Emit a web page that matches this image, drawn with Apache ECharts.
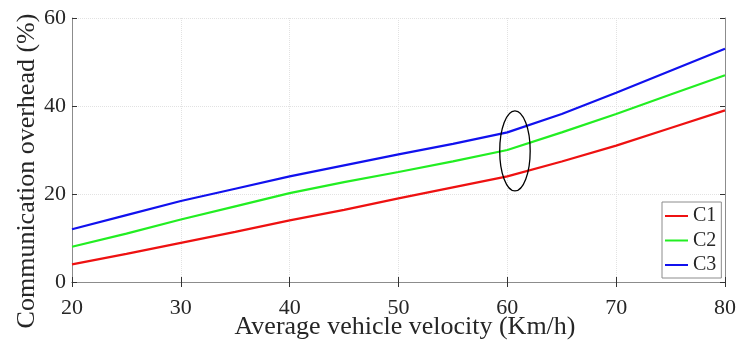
<!DOCTYPE html>
<html><head><meta charset="utf-8">
<script src="https://cdn.jsdelivr.net/npm/echarts@6/dist/echarts.min.js"></script>
<style>html,body{margin:0;padding:0;background:#fff}#c{width:739px;height:341px}</style>
</head><body><div id="c"></div>
<script>
var velocities = [20, 25, 30, 35, 40, 45, 50, 55, 60, 65, 70, 75, 80];
var c1 = [4, 6.4, 8.9, 11.4, 14, 16.4, 19, 21.5, 24, 27.4, 31, 35, 39];
var c2 = [8, 11, 14.2, 17.2, 20.2, 22.7, 25, 27.4, 30, 34, 38.2, 42.6, 47];
var c3 = [12, 15.2, 18.4, 21.2, 24, 26.5, 29, 31.4, 34, 38.2, 43, 48, 53];
var seriesNames = ['C1', 'C2', 'C3'];
var ellipseMark = [[60.7, 29.8, 2.8, 18.2]]; // center x, center y, width, height (data units)

var FONT = 'Liberation Serif';
function pairs(ys){ return velocities.map(function(x,i){ return [x, ys[i]]; }); }
function mkLine(name, ys, color){
  return {name:name, type:'line', data:pairs(ys), symbol:'none', smooth:false,
    lineStyle:{color:color, width:2.2}, itemStyle:{color:color}, z:3};
}
var axisLineGray = {show:true, lineStyle:{color:'#8c8c8c', width:1}};
var chart = echarts.init(document.getElementById('c'));
chart.setOption({
  animation:false,
  grid:{left:72, right:14, top:18, bottom:59, containLabel:false},
  xAxis:[
    {type:'value', min:20, max:80, interval:10, position:'bottom',
     axisLine:axisLineGray, axisTick:{inside:true, length:5, lineStyle:{color:'#333'}},
     axisLabel:{fontFamily:FONT, fontSize:22, color:'#262626', margin:15},
     splitLine:{show:true, lineStyle:{color:'#e2e2e2', type:'dotted', width:1}}},
    {type:'value', min:20, max:80, interval:10, position:'top',
     axisLine:axisLineGray, axisTick:{inside:true, length:5, lineStyle:{color:'#333'}},
     axisLabel:{show:false}, splitLine:{show:false}}
  ],
  yAxis:[
    {type:'value', min:0, max:60, interval:20, position:'left',
     axisLine:axisLineGray, axisTick:{inside:true, length:5, lineStyle:{color:'#333'}},
     axisLabel:{fontFamily:FONT, fontSize:22, color:'#262626', margin:6},
     splitLine:{show:true, lineStyle:{color:'#e2e2e2', type:'dotted', width:1}}},
    {type:'value', min:0, max:60, interval:20, position:'right',
     axisLine:axisLineGray, axisTick:{inside:true, length:5, lineStyle:{color:'#333'}},
     axisLabel:{show:false}, splitLine:{show:false}}
  ],
  legend:{data:seriesNames, orient:'vertical', left:662, top:202,
    icon:'rect', padding:[4,5,3,3], itemGap:4.5, itemWidth:23, itemHeight:2,
    backgroundColor:'#fff', borderColor:'#8c8c8c', borderWidth:1, borderRadius:0,
    textStyle:{fontFamily:FONT, fontSize:20, color:'#262626', lineHeight:20}},
  graphic:[
    {type:'text', x:405, y:327, style:{text:'Average vehicle velocity (Km/h)', font:'26px "Liberation Serif"', fill:'#262626', align:'center', verticalAlign:'middle'}},
    {type:'text', x:27, y:171, rotation:Math.PI/2, style:{text:'Communication overhead (%)', font:'26px "Liberation Serif"', fill:'#262626', align:'center', verticalAlign:'middle'}}
  ],
  series:[
    mkLine(seriesNames[0], c1, '#ee1111'),
    mkLine(seriesNames[1], c2, '#22ee22'),
    mkLine(seriesNames[2], c3, '#1111ee'),
    {type:'custom', name:'mark', data:ellipseMark, z:4, silent:true,
     renderItem:function(params, api){
       var c = api.coord([api.value(0), api.value(1)]);
       var s = api.size([api.value(2), api.value(3)]);
       return {type:'ellipse', shape:{cx:c[0], cy:c[1], rx:s[0]/2, ry:s[1]/2},
         style:{fill:null, stroke:'#000', lineWidth:1.3}};
     }}
  ]
});
</script></body></html>
